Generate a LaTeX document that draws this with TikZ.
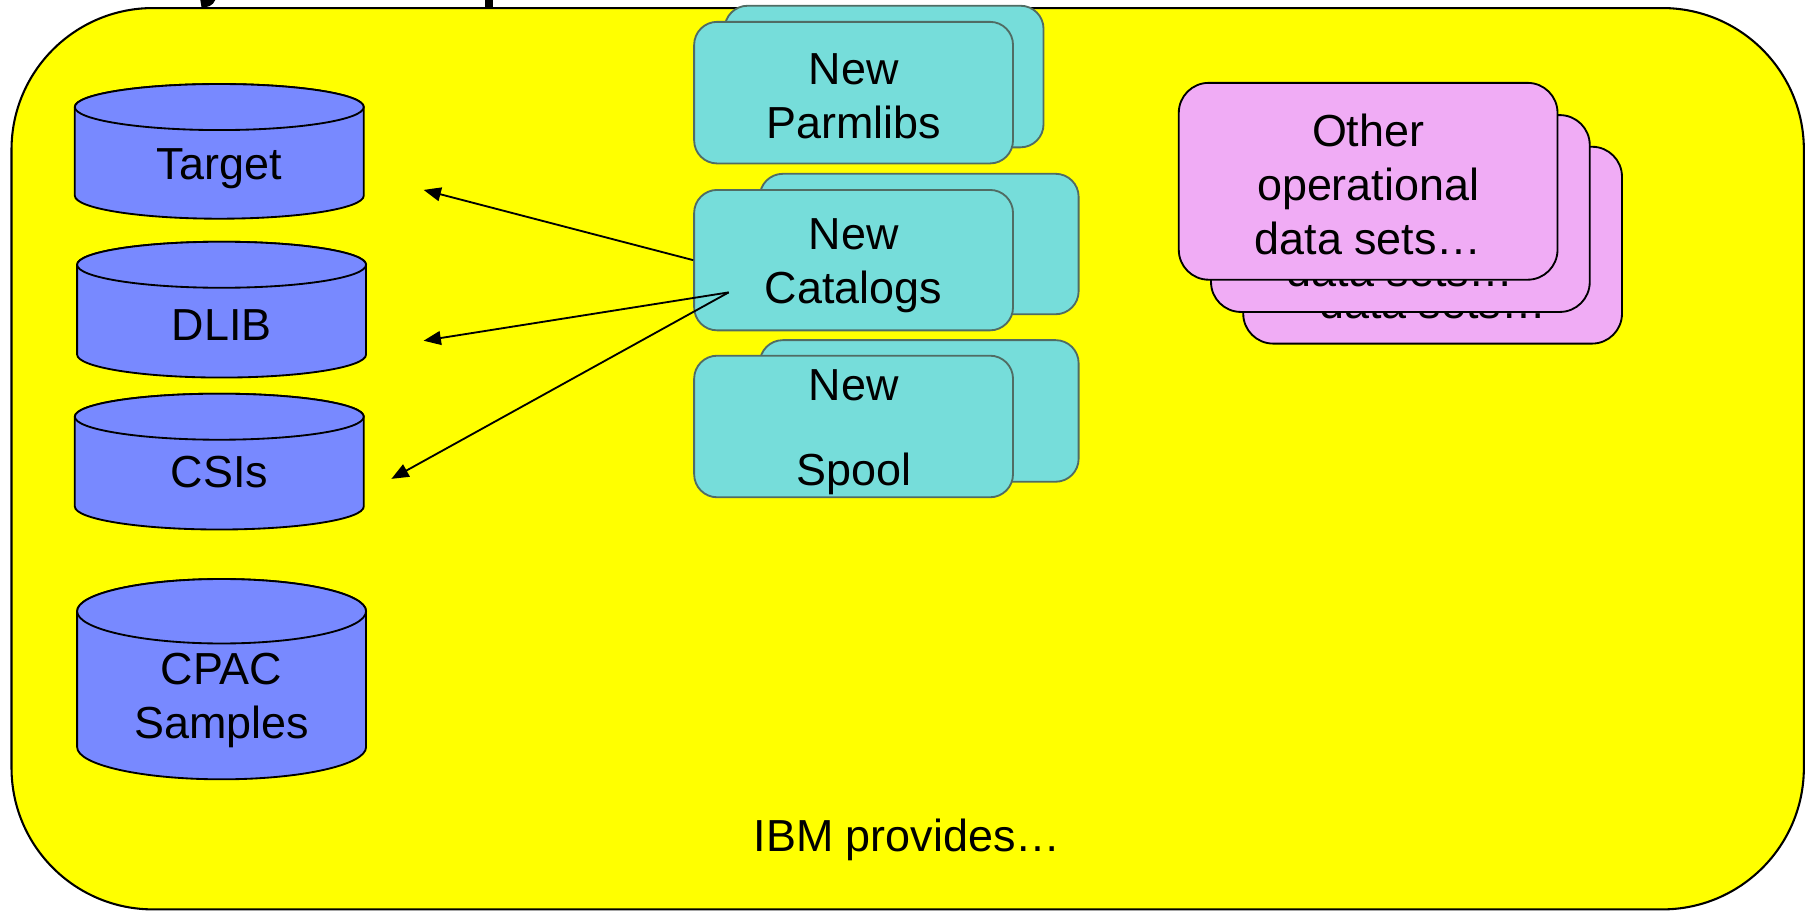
\documentclass[tikz,border=0pt]{standalone}
\usepackage{fontspec}
\setmainfont{Liberation Sans}
\usetikzlibrary{arrows.meta}
\definecolor{bgyellow}{RGB}{255,255,0}
\definecolor{cylblue}{RGB}{120,137,255}
\definecolor{cyanfill}{RGB}{118,221,218}
\definecolor{cyanedge}{RGB}{80,108,100}
\definecolor{pinkfill}{RGB}{240,172,245}
\newcommand{\dbcyl}[5]{% cx, topY, bottomY, rx, ry
  \draw[cylstyle] (#1-#4,#2-#5) -- (#1-#4,#3+#5)
     arc[start angle=180, end angle=360, x radius=#4pt, y radius=#5pt]
     -- (#1+#4,#2-#5)
     arc[start angle=0, end angle=180, x radius=#4pt, y radius=#5pt] -- cycle;
  \draw[cylstyle] (#1,#2-#5) ellipse[x radius=#4pt, y radius=#5pt];
}
\begin{document}
\begin{tikzpicture}[x=1pt,y=1pt,
  bigfont/.style={font=\fontsize{39}{47}\selectfont},
  cylstyle/.style={draw=black, line width=1.6pt, fill=cylblue},
  boxtext/.style={bigfont, align=center, inner sep=0pt},
  cyanbox/.style={draw=cyanedge, line width=1.6pt, fill=cyanfill, rounded corners=20pt,
    minimum width=277pt, minimum height=123pt, inner sep=0pt},
  pinkbox/.style={draw=black, line width=1.6pt, fill=pinkfill, rounded corners=26pt,
    minimum width=329pt, minimum height=171pt, inner sep=0pt},
  arr/.style={-{Triangle[length=15pt,width=12pt]}, line width=1.6pt}
]
\useasboundingbox (0,0) rectangle (1568,791);
% title descender fragments
\fill (174,791) -- (187,791) .. controls (185,786) and (180,784) .. (175,785) -- cycle;
\fill (421,785) rectangle (428,791);
% outer frame
\node[draw=black, line width=1.8pt, fill=bgyellow, rounded corners=123pt,
      minimum width=1557pt, minimum height=783pt, inner sep=0pt] (frame) at (788.5,392.5) {};
% cylinders
\dbcyl{190.5}{718}{601}{125.5}{20}
\node[boxtext] (target) at (190.5,644) {Target};
\dbcyl{192.5}{581}{463}{125.5}{20}
\node[boxtext] (dlib) at (192.5,509) {DLIB};
\dbcyl{190.5}{449}{331}{125.5}{20}
\node[boxtext] (csis) at (190.5,381) {CSIs};
\dbcyl{192.5}{288}{114}{125.5}{28}
\node[boxtext] (cpac) at (192.5,182.5) {CPAC\\Samples};
% cyan stacks
\node[cyanbox] (parmB) at (768,724.5) {};
\node[cyanbox] (parmF) at (741.5,710.5) {};
\node[boxtext] (parmT) at ([yshift=-3pt]parmF.center) {New\\Parmlibs};
\node[cyanbox, minimum height=122pt] (catB) at (798.5,579) {};
\node[cyanbox, minimum height=122pt] (catF) at (741.5,565) {};
\node[boxtext] (catT) at ([yshift=-5pt]catF.center) {New\\Catalogs};
\node[cyanbox] (spoolB) at (798.5,434) {};
\node[cyanbox] (spoolF) at (741.5,420.5) {};
\node[boxtext] (spoolT) at ([yshift=-5pt]spoolF.center) {New\\[27pt]Spool};
% pink stack
\node[pinkbox] (opsC) at (1244.5,578) {};
\node[boxtext] (opsCT) at ([yshift=-2.5pt]opsC.center) {Other\\operational\\data sets…};
\node[pinkbox] (opsB) at (1216.5,605.5) {};
\node[boxtext] (opsBT) at ([yshift=-2.5pt]opsB.center) {Other\\operational\\data sets…};
\node[pinkbox] (opsA) at (1188.5,633.5) {};
\node[boxtext] (opsAT) at ([yshift=-2.5pt]opsA.center) {Other\\operational\\data sets…};
% arrows
\coordinate (t1) at (368,626);
\coordinate (t2) at (368,495);
\coordinate (t3) at (340,375);
\coordinate (s2) at (633,537);
\draw[arr] (catF.west) -- (t1);
\draw[arr] (s2) -- (t2);
\draw[arr] (s2) -- (t3);
% footer
\node[bigfont, inner sep=0pt] (ibm) at (788,61) {IBM provides…};
\end{tikzpicture}
\end{document}
